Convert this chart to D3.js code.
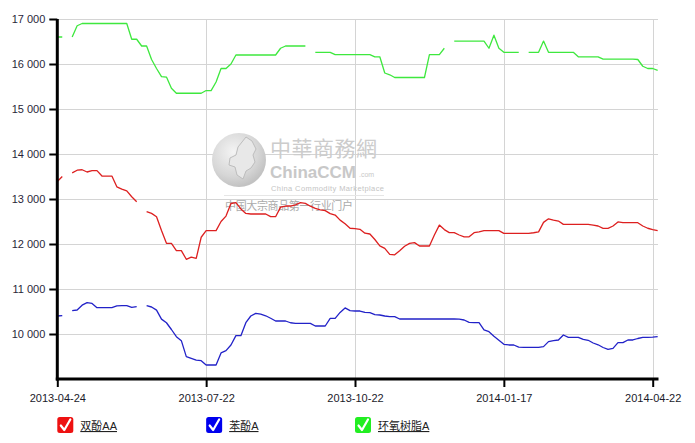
<!DOCTYPE html>
<html>
<head>
<meta charset="utf-8">
<script src="https://cdn.jsdelivr.net/npm/d3@7"></script>
<style>
  html, body { margin: 0; padding: 0; background: #fff; }
  svg { display: block; }
</style>
</head>
<body>
<svg id="chart" width="695" height="443"></svg>
<script>
// ---- data ----
const seriesNames = ["双酚AA", "苯酚A", "环氧树脂A"];
const tickLabels = ["2013-04-24", "2013-07-22", "2013-10-22", "2014-01-17", "2014-04-22"];
const tickIndex = [0, 30, 60, 90, 120];
const yTicks = [10000, 11000, 12000, 13000, 14000, 15000, 16000, 17000];

const bisphenolA = [13390,13500,null,13580,13640,13650,13600,13630,13630,13510,
  13510,13510,13270,13220,13180,13050,12940,null,12720,12680,
  12607,12300,12015,12015,11852,11852,11660,11710,11680,12150,
  12296,12296,12296,12500,12620,12900,12920,12780,12680,12667,
  12667,12667,12667,12607,12607,12820,12844,12844,12870,12918,
  12904,12840,12790,12756,12741,12675,12644,12530,12450,12350,
  12340,12326,12240,12222,12100,11960,11904,11770,11760,11850,
  11950,12015,12030,11956,11956,11956,12200,12420,12320,12252,
  12252,12200,12160,12160,12252,12270,12296,12296,12296,12296,
  12237,12237,12237,12237,12237,12237,12250,12270,12480,12560,
  12530,12510,12437,12437,12437,12437,12437,12437,12420,12400,
  12348,12348,12400,12490,12474,12474,12474,12474,12400,12350,
  12320,12296];

const phenolA = [10400,10410,null,10520,10533,10640,10696,10680,10585,10585,
  10585,10585,10625,10630,10630,10590,10607,null,10630,10600,
  10530,10330,10250,10100,9941,9852,9496,9459,9420,9407,
  9311,9311,9311,9580,9630,9756,9963,9963,10252,10400,
  10459,10440,10405,10350,10289,10289,10289,10250,10237,10237,
  10237,10237,10178,10178,10178,10348,10348,10480,10580,10520,
  10511,10511,10480,10474,10430,10422,10400,10385,10385,10333,
  10333,10333,10333,10333,10333,10333,10333,10333,10333,10333,
  10333,10330,10311,10260,10252,10252,10090,10052,9950,9860,
  9770,9756,9756,9710,9704,9704,9704,9704,9720,9830,
  9852,9867,9978,9926,9926,9926,9880,9860,9800,9760,
  9700,9659,9680,9807,9807,9867,9867,9900,9926,9926,
  9930,9941];

const epoxyA = [16600,16600,null,16600,16850,16900,16900,16900,16900,16900,
  16900,16900,16900,16900,16900,16550,16550,16400,16400,16100,
  15900,15720,15710,15460,15350,15350,15350,15350,15350,15350,
  15410,15410,15600,15900,15900,16000,16200,16200,16200,16200,
  16200,16200,16200,16200,16200,16350,16400,16400,16400,16400,
  16400,null,16260,16260,16260,16260,16210,16210,16210,16210,
  16210,16210,16210,16210,16160,16160,15800,15760,15700,15700,
  15700,15700,15700,15700,15700,16210,16210,16210,16350,null,
  16510,16510,16510,16510,16510,16510,16510,16350,16640,16350,
  16260,16260,16260,16260,null,16260,16260,16260,16510,16260,
  16260,16260,16260,16260,16260,16160,16160,16160,16160,16160,
  16110,16110,16110,16110,16110,16110,16110,16100,15950,15900,
  15900,15860];

const seriesColors = ["#dd2020", "#2222c8", "#3ee83e"];
const legendColors = ["#ee1111", "#0000ee", "#22ee22"];

// ---- layout ----
const svg = d3.select("#chart");
const plotLeft = 57.3, plotRight = 652.7, plotTop = 19, plotBottom = 379;
const font = "'Liberation Sans', Arial, 'Noto Sans CJK SC', sans-serif";

const x = d3.scaleLinear().domain([0, 120]).range([plotLeft, plotRight]);
const y = d3.scaleLinear().domain([9000, 17000]).range([plotBottom, plotTop]);

svg.append("rect").attr("width", 695).attr("height", 443).attr("fill", "#fff");

// gridlines
const grid = svg.append("g");
grid.selectAll("line.h").data(yTicks).join("line")
  .attr("x1", plotLeft).attr("x2", 658)
  .attr("y1", d => Math.round(y(d)) + 0.5).attr("y2", d => Math.round(y(d)) + 0.5)
  .attr("stroke", "#d4d4d4").attr("stroke-width", 1);
grid.selectAll("line.v").data(tickIndex.slice(1)).join("line")
  .attr("x1", d => Math.round(x(d)) + 0.5).attr("x2", d => Math.round(x(d)) + 0.5)
  .attr("y1", plotTop).attr("y2", plotBottom)
  .attr("stroke", "#d4d4d4").attr("stroke-width", 1);

// watermark
const wm = svg.append("g");
const grad = svg.append("defs").append("radialGradient").attr("id", "globe")
  .attr("cx", "40%").attr("cy", "35%").attr("r", "65%");
grad.append("stop").attr("offset", "0%").attr("stop-color", "#f4f4f4");
grad.append("stop").attr("offset", "70%").attr("stop-color", "#d6d6d6");
grad.append("stop").attr("offset", "100%").attr("stop-color", "#c2c2c2");
wm.append("circle").attr("cx", 239).attr("cy", 160).attr("r", 27).attr("fill", "url(#globe)");
wm.append("path")
  .attr("d", "M246,137 l6,4 l4,8 l-3,6 l2,7 l-4,6 l-5,3 l-3,8 l-6,-4 l-2,-8 l-6,-2 l1,-7 l6,-3 l2,-8 z")
  .attr("fill", "#e8e8e8").attr("stroke", "#bdbdbd").attr("stroke-width", 1);
wm.append("text").attr("x", 270).attr("y", 156).text("中華商務網")
  .attr("font-family", "'Noto Sans CJK TC', sans-serif").attr("font-size", 21)
  .attr("fill", "#cccccc").attr("textLength", 107);
wm.append("text").attr("x", 270).attr("y", 178).text("ChinaCCM")
  .attr("font-family", "'Liberation Sans', sans-serif").attr("font-weight", "bold")
  .attr("font-size", 17).attr("fill", "#c8c8c8");
wm.append("text").attr("x", 359).attr("y", 177).text(".com")
  .attr("font-family", font).attr("font-size", 7).attr("fill", "#c8c8c8");
wm.append("text").attr("x", 271).attr("y", 191).text("China Commodity Marketplace")
  .attr("font-family", font).attr("font-size", 7.5).attr("fill", "#c4c4c4").attr("textLength", 113);
wm.append("line").attr("x1", 224).attr("x2", 384).attr("y1", 195.5).attr("y2", 195.5)
  .attr("stroke", "#e6e6e6");
wm.append("text").attr("x", 225).attr("y", 210).text("中国大宗商品第一行业门户")
  .attr("font-family", "'Noto Sans CJK SC', sans-serif").attr("font-size", 11)
  .attr("fill", "#aaaaaa").attr("textLength", 128);

// lines
const allSeries = [bisphenolA, phenolA, epoxyA];
const line = d3.line()
  .defined(d => d != null)
  .x((d, i) => x(i))
  .y(d => y(d));
svg.append("g").selectAll("path").data(allSeries).join("path")
  .attr("d", d => line(d))
  .attr("fill", "none")
  .attr("stroke", (d, i) => seriesColors[i])
  .attr("stroke-width", 1.3)
  .attr("stroke-linejoin", "round");

// y axis
const yAxis = svg.append("g").attr("transform", `translate(${plotLeft},0)`)
  .call(d3.axisLeft(y).tickValues(yTicks).tickSize(8).tickPadding(4)
    .tickFormat(d => d3.format(",")(d).replace(",", " ")));
yAxis.select(".domain").remove();
yAxis.selectAll(".tick line").attr("stroke", "#000").attr("stroke-width", 2);
yAxis.selectAll(".tick text").attr("font-family", font).attr("font-size", 11).attr("fill", "#2a1f3a");
svg.append("line").attr("x1", plotLeft).attr("x2", plotLeft).attr("y1", plotTop).attr("y2", plotBottom + 1.5)
  .attr("stroke", "#000").attr("stroke-width", 3);

// x axis
const xAxis = svg.append("g").attr("transform", `translate(0,${plotBottom})`)
  .call(d3.axisBottom(x).tickValues(tickIndex).tickSize(8).tickPadding(7)
    .tickFormat((d, i) => tickLabels[i]));
xAxis.select(".domain").remove();
xAxis.selectAll(".tick line").attr("stroke", "#000").attr("stroke-width", 2);
xAxis.selectAll(".tick text").attr("font-family", font).attr("font-size", 11).attr("fill", "#1a1a2a");
svg.append("line").attr("x1", plotLeft - 1.5).attr("x2", 658.5).attr("y1", plotBottom).attr("y2", plotBottom)
  .attr("stroke", "#000").attr("stroke-width", 3);

// legend
const legend = svg.append("g").selectAll("g").data(seriesNames).join("g")
  .attr("transform", (d, i) => `translate(${x(tickIndex[i])},417)`);
legend.append("rect").attr("width", 16).attr("height", 16).attr("rx", 2.5)
  .attr("fill", (d, i) => legendColors[i]);
legend.append("path").attr("d", "M3.5,8.5 L7,13 L13,2.5")
  .attr("fill", "none").attr("stroke", "#fff").attr("stroke-width", 2.2)
  .attr("stroke-linecap", "round").attr("stroke-linejoin", "round");
legend.append("text").attr("x", 23).attr("y", 13).text(d => d)
  .attr("font-family", font).attr("font-size", 11).attr("fill", "#222")
  .attr("text-decoration", "underline");
</script>
</body>
</html>
